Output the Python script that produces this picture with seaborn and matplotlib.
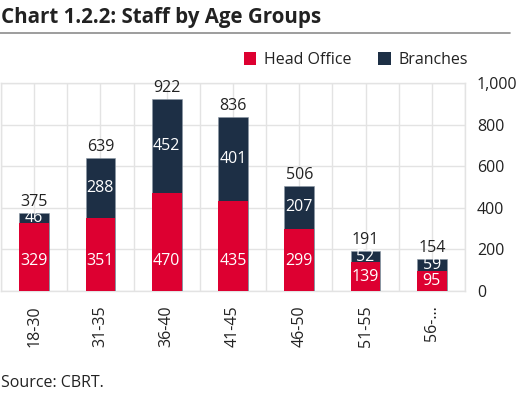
import matplotlib
matplotlib.use("Agg")
import matplotlib.pyplot as plt
from matplotlib.lines import Line2D
from matplotlib.patches import Patch
import seaborn as sns
import pandas as pd
import numpy as np

categories = ["18-30", "31-35", "36-40", "41-45", "46-50", "51-55", "56-..."]
head_office = [329, 351, 470, 435, 299, 139, 95]
branches = [46, 288, 452, 401, 207, 52, 59]
totals = [h + b for h, b in zip(head_office, branches)]
y_ticks = [0, 200, 400, 600, 800, 1000]
y_tick_labels = ["0", "200", "400", "600", "800", "1,000"]

RED = "#DD0031"
NAVY = "#1D2F45"
GRID = "#E3E3E3"
TXT = "#222222"
FS = 11.5

sns.set_theme(style="white")
plt.rcParams["font.family"] = ["Open Sans", "DejaVu Sans"]

df = pd.DataFrame({"cat": categories, "head": head_office, "br": branches, "tot": totals})

fig = plt.figure(figsize=(5.18, 3.99), dpi=100)
W, H = 518, 399
ax = fig.add_axes([1 / W, (H - 291) / H, 464 / W, 208 / H])

sns.barplot(data=df, x="cat", y="tot", color=NAVY, width=0.45, ax=ax,
            saturation=1, edgecolor="#8A96A3", linewidth=0.4, zorder=3)
sns.barplot(data=df, x="cat", y="head", color=RED, width=0.45, ax=ax,
            saturation=1, linewidth=0, zorder=4)

ax.set_xlim(-0.5, 6.5)
ax.set_ylim(0, 1000)
ax.set_xlabel("")
ax.set_ylabel("")

ax.set_xticks(range(len(categories)))
ax.set_xticks(np.arange(-0.5, 7.0, 1.0), minor=True)
ax.set_xticklabels(categories, rotation=90, fontsize=FS, color=TXT)
ax.tick_params(axis="x", which="both", length=0, pad=10)
ax.grid(True, axis="x", which="both", color=GRID, linewidth=1, zorder=0)
ax.grid(True, axis="y", which="major", color=GRID, linewidth=1, zorder=0)
ax.set_axisbelow(True)

ax.yaxis.tick_right()
ax.set_yticks(y_ticks)
ax.set_yticklabels(y_tick_labels, fontsize=FS, color=TXT)
ax.tick_params(axis="y", length=0, pad=8.5)

for s in ax.spines.values():
    s.set_color(GRID)
    s.set_linewidth(1)

for i, (h, b, t) in enumerate(zip(head_office, branches, totals)):
    ax.text(i, min(h / 2, 145), str(h), ha="center", va="center", color="white",
            fontsize=FS, zorder=5)
    ax.text(i, h + b / 2, str(b), ha="center", va="center", color="white",
            fontsize=FS, zorder=5)
    ax.text(i, t + 15, str(t), ha="center", va="bottom", color=TXT,
            fontsize=FS, zorder=5)

fig.text(1 / W, 1 - 17 / H, "Chart 1.2.2: Staff by Age Groups", fontsize=14.8,
         fontweight="bold", color=TXT, ha="left", va="center")
fig.add_artist(Line2D([0, 510 / W], [1 - 33 / H, 1 - 33 / H], color="#8C8C8C",
                      linewidth=1.2, transform=fig.transFigure))

handles = [Patch(facecolor=RED, edgecolor="none", label="Head Office"),
           Patch(facecolor=NAVY, edgecolor="none", label="Branches")]
fig.legend(handles=handles, loc="center right", bbox_to_anchor=(482 / W, 1 - 60 / H),
           ncol=2, frameon=False, fontsize=FS, handlelength=0.8, handleheight=0.8,
           handletextpad=0.45, columnspacing=1.7, labelcolor=TXT)

fig.text(1 / W, 1 - 383 / H, "Source: CBRT.", fontsize=FS, color=TXT,
         ha="left", va="center")

fig.savefig("out.png", dpi=100)
